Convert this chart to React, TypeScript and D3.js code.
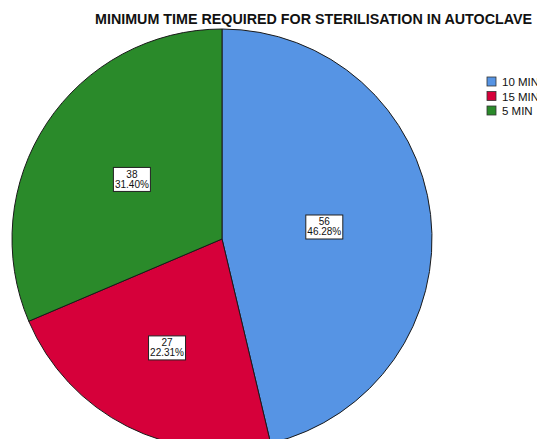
import React from "react";
import * as d3 from "d3";

const categories = ["10 MIN", "15 MIN", "5 MIN"];
const counts = [56, 27, 38];
const percents = ["46.28%", "22.31%", "31.40%"];
const colors = ["#5694E4", "#D6003A", "#2A8A2A"];
const title = "MINIMUM TIME REQUIRED FOR STERILISATION IN AUTOCLAVE";

const W = 537;
const H = 439;
const cx = 222;
const cy = 239;
const R = 210;
const labelRadii = [103, 122, 108];

export default function App() {
  const pie = d3.pie<number>().sort(null).value((d) => d)(counts);
  const arc = d3.arc<d3.PieArcDatum<number>>().innerRadius(0).outerRadius(R);
  return (
    <svg width={W} height={H} style={{ position: "absolute", left: 0, top: 0, background: "#fff" }}
      fontFamily="Liberation Sans, Arial, sans-serif">
      <text x={95} y={24} fontSize={14.3} fontWeight="bold" fill="#111">{title}</text>
      <g transform={`translate(${cx},${cy})`}>
        {pie.map((p, i) => (
          <path key={i} d={arc(p) || ""} fill={colors[i]} stroke="#1a1a1a" strokeWidth={1} />
        ))}
        {pie.map((p, i) => {
          const la = d3.arc<d3.PieArcDatum<number>>().innerRadius(labelRadii[i]).outerRadius(labelRadii[i]);
          const [x, y] = la.centroid(p);
          return (
            <g key={"l" + i} transform={`translate(${x},${y})`}>
              <rect x={-18.5} y={-12} width={37} height={24} fill="#fff" stroke="#222" strokeWidth={1} />
              <text x={0} y={-1.5} textAnchor="middle" fontSize={10} fill="#111">{counts[i]}</text>
              <text x={0} y={8.5} textAnchor="middle" fontSize={10} fill="#111">{percents[i]}</text>
            </g>
          );
        })}
      </g>
      <g>
        {categories.map((c, i) => (
          <g key={c} transform={`translate(487,${77 + i * 14.5})`}>
            <rect x={0} y={0} width={9} height={9} fill={colors[i]} stroke="#333" strokeWidth={0.8} />
            <text x={15} y={9} fontSize={11.5} fill="#111">{c}</text>
          </g>
        ))}
      </g>
    </svg>
  );
}
